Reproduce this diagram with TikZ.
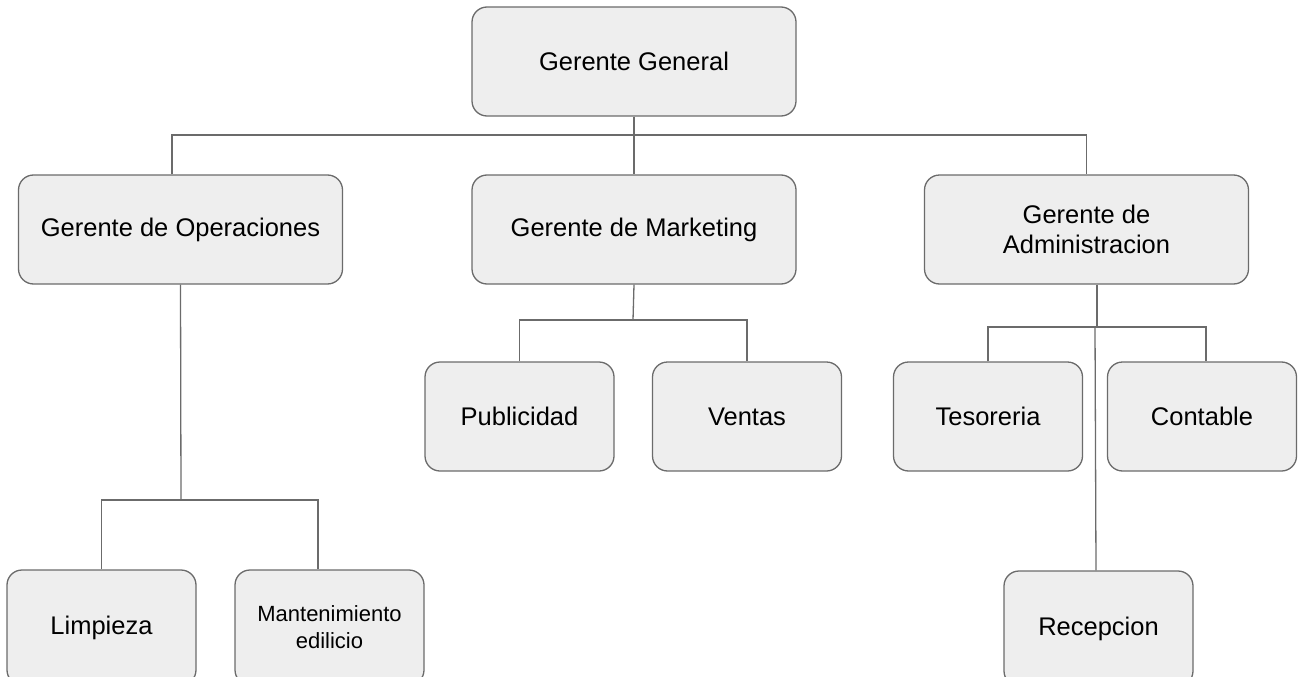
\documentclass[tikz,border=0pt]{standalone}
\usepackage{fontspec}
\setmainfont{Liberation Sans}
\usetikzlibrary{positioning}
\definecolor{linea}{HTML}{6B6B6B}
\definecolor{fondo}{HTML}{EEEEEE}
\tikzset{caja/.style={draw=linea, fill=fondo, rounded corners=15pt, line width=1.3pt,
    inner sep=0pt, minimum height=109pt, align=center,
    font=\fontsize{25.5}{30}\selectfont}}
\tikzset{grande/.style={caja, minimum width=324pt}}
\tikzset{chica/.style={caja, minimum width=189pt}}
\tikzset{abajo/.style={chica, minimum height=115pt}}
\tikzset{rama/.style={draw=linea, line width=1.3pt}}

\begin{document}
\begin{tikzpicture}[x=1pt, y=-1pt]
\useasboundingbox (0,0) rectangle (1301,677);

% niveles
\node[grande] (gg) at (634,61.5) {Gerente General};
\node[grande] (ops) at (180.5,229.5) {Gerente de Operaciones};
\node[grande] (mkt) at (634,229.5) {Gerente de Marketing};
\node[grande] (adm) at (1086.5,229.5) {Gerente de\\Administracion};

\node[chica] (pub) at (519.5,416.5) {Publicidad};
\node[chica] (ven) at (747,416.5) {Ventas};
\node[chica] (tes) at (988,416.5) {Tesoreria};
\node[chica] (con) at (1202,416.5) {Contable};

\node[abajo] (lim) at (101.5,627.5) {Limpieza};
\node[abajo, font=\fontsize{22}{27}\selectfont] (man) at (329.5,627.5) {Mantenimiento\\edilicio};
\node[abajo] (rec) at (1098.5,628.5) {Recepcion};

% conexiones
\coordinate (b1) at (634,135);
\coordinate (b2) at (181,500);
\coordinate (b3) at (633,320);
\coordinate (b4) at (1097,327);

\draw[rama] (gg) -- (mkt);
\draw[rama] ([xshift=-8.5pt]ops.north) |- (b1) -| (adm.north);

\draw[rama] (ops.south) -- (b2);
\draw[rama] (lim.north) |- (b2) -| ([xshift=-11.5pt]man.north);

\draw[rama] (mkt.south) -- (b3);
\draw[rama] (pub.north) |- (b3) -| (ven.north);

\draw[rama] ([xshift=10.5pt]adm.south) -- (b4);
\draw[rama] (tes.north) |- (b4) -| ([xshift=4pt]con.north);
\draw[rama] ([xshift=-2pt]b4) -- ([xshift=-2.5pt]rec.north);
\end{tikzpicture}
\end{document}
